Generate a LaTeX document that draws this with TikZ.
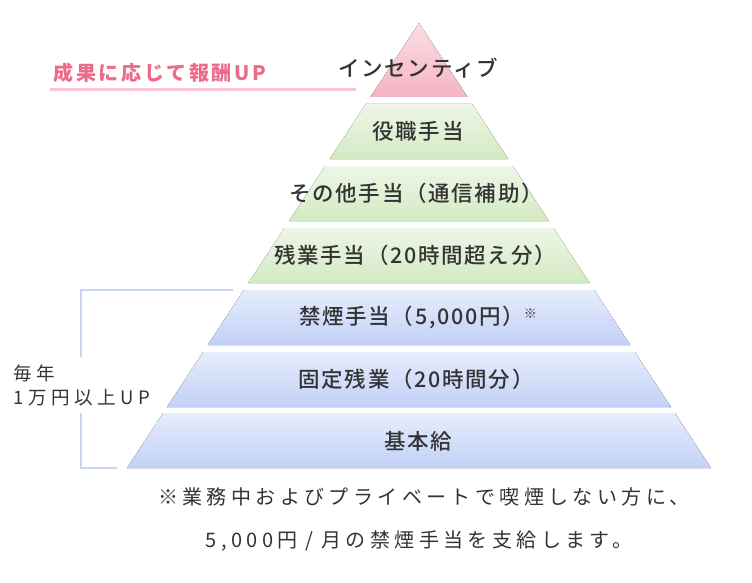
\documentclass[tikz,border=0pt]{standalone}
\usepackage{fontspec}
\setmainfont{Noto Sans CJK JP}
\newfontfamily\labfont[LetterSpace=8, BoldFont={Noto Sans CJK JP Medium}]{Noto Sans CJK JP}
\newfontfamily\pinkfont[LetterSpace=13]{Noto Sans CJK JP}
\newfontfamily\sidefont[LetterSpace=25]{Noto Sans CJK JP}
\newfontfamily\notefont[LetterSpace=22]{Noto Sans CJK JP}
\definecolor{txt}{HTML}{333333}
\definecolor{pinktxt}{HTML}{EE6A8A}
\definecolor{pinkline}{HTML}{F9C3CF}
\definecolor{pinktop}{HTML}{FBDDE4}
\definecolor{pinkbot}{HTML}{F5B4C3}
\definecolor{greentop}{HTML}{EEF6E7}
\definecolor{greenbot}{HTML}{D3EAC3}
\definecolor{bluetop}{HTML}{E6ECFC}
\definecolor{bluebot}{HTML}{C1D1F6}
\definecolor{bracketc}{HTML}{C9D7F6}
\tikzset{
  lab/.style={inner sep=0pt, text=txt, font=\labfont\bfseries\fontsize{21.5}{25}\selectfont},
  pinklab/.style={inner sep=0pt, text=pinktxt, font=\pinkfont\bfseries\fontsize{20}{24}\selectfont},
  sidelab/.style={inner sep=0pt, anchor=west, text=txt, font=\sidefont\fontsize{18.5}{22}\selectfont},
  notelab/.style={inner sep=0pt, text=txt, font=\notefont\fontsize{20}{24}\selectfont},
  bracketline/.style={draw=bracketc, line width=2pt},
  pinkrule/.style={draw=pinkline, line width=3pt},
}
\newcommand{\pyrlayer}[4]{%
  \fill[top color=#3, bottom color=#4]
    ({419-0.6562*(#1-23)},#1) -- ({419+0.6562*(#1-23)},#1) --
    ({419+0.6562*(#2-23)},#2) -- ({419-0.6562*(#2-23)},#2) -- cycle;}
\begin{document}
\begin{tikzpicture}[x=1pt,y=-1pt]
\useasboundingbox (0,0) rectangle (752,583);
% apex triangle
\fill[top color=pinktop, bottom color=pinkbot] (419,23) -- ({419+0.6562*74},97) -- ({419-0.6562*74},97) -- cycle;
\pyrlayer{104}{159}{greentop}{greenbot}
\pyrlayer{166}{221}{greentop}{greenbot}
\pyrlayer{228}{283}{greentop}{greenbot}
\pyrlayer{290}{345}{bluetop}{bluebot}
\pyrlayer{352}{407}{bluetop}{bluebot}
\pyrlayer{413}{468}{bluetop}{bluebot}
% labels
\node[lab] (l1) at (418,68) {インセンティブ};
\node[lab] (l2) at (418,131) {役職手当};
\node[lab] (l3) at (416,193) {その他手当（通信補助）};
\node[lab] (l4) at (415,255) {残業手当（20時間超え分）};
\node[lab] (l5) at (418,317) {禁煙手当（5,000円）{\fontsize{13}{13}\selectfont\raisebox{6pt}{※}}};
\node[lab] (l6) at (416,379) {固定残業（20時間分）};
\node[lab] (l7) at (418,441) {基本給};
% pink heading
\node[pinklab] (up) at (160,73) {成果に応じて報酬UP};
\coordinate (ruleL) at (50,90);
\coordinate (ruleR) at (356,90);
\draw[pinkrule] (ruleL) -- (ruleR);
% bracket
\coordinate (bA) at (233,290);
\coordinate (bB) at (81,290);
\coordinate (bC) at (81,357);
\coordinate (bD) at (81,413);
\coordinate (bE) at (81,468);
\coordinate (bF) at (117,468);
\draw[bracketline] (bA) -- (bB) -- (bC);
\draw[bracketline] (bD) -- (bE) -- (bF);
\node[sidelab] (s1) at (13,373) {毎年};
\node[sidelab] (s2) at (13,398) {1万円以上UP};
% note
\node[notelab] (n1) at (424,497) {※業務中およびプライベートで喫煙しない方に、};
\node[notelab] (n2) at (419,541) {5,000円\hspace{8pt}/\hspace{8pt}月の禁煙手当を支給します。};
\end{tikzpicture}
\end{document}
